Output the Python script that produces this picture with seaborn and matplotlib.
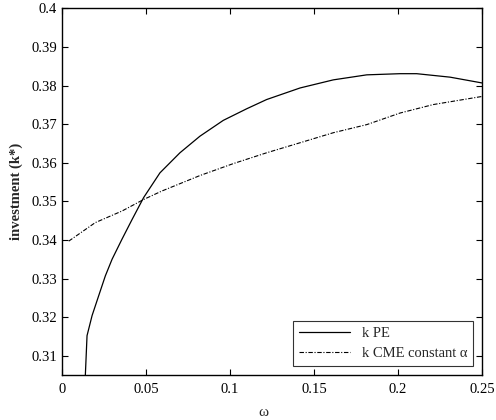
import matplotlib
matplotlib.use("Agg")
import matplotlib.pyplot as plt
import seaborn as sns
import pandas as pd

# k PE curve
pe_omega = [0.0139, 0.0149, 0.0179, 0.0218, 0.0258, 0.0298, 0.0357, 0.0417, 0.0486,
            0.0583, 0.0702, 0.0821, 0.0960, 0.1099, 0.1218, 0.1417, 0.1615, 0.1814,
            0.2012, 0.2111, 0.2310, 0.2500]
pe_k = [0.3050, 0.3152, 0.3204, 0.3255, 0.3307, 0.3350, 0.3402, 0.3453, 0.3510,
        0.3574, 0.3626, 0.3669, 0.3710, 0.3740, 0.3764, 0.3794, 0.3815, 0.3828,
        0.3831, 0.3831, 0.3822, 0.3807]

# k CME constant alpha curve
cme_omega = [0.0040, 0.0198, 0.0357, 0.0486, 0.0595, 0.0821, 0.1020, 0.1218, 0.1417,
             0.1615, 0.1814, 0.2012, 0.2210, 0.2500]
cme_k = [0.3397, 0.3445, 0.3475, 0.3505, 0.3527, 0.3567, 0.3598, 0.3626, 0.3652,
         0.3678, 0.3699, 0.3729, 0.3751, 0.3772]

x_ticks = [0, 0.05, 0.1, 0.15, 0.2, 0.25]
x_tick_labels = ["0", "0.05", "0.1", "0.15", "0.2", "0.25"]
y_ticks = [0.31, 0.32, 0.33, 0.34, 0.35, 0.36, 0.37, 0.38, 0.39, 0.4]
y_tick_labels = ["0.31", "0.32", "0.33", "0.34", "0.35", "0.36", "0.37", "0.38", "0.39", "0.4"]

sns.set_style("ticks")
plt.rcParams['font.family'] = ['Liberation Serif', 'DejaVu Serif']
plt.rcParams['mathtext.fontset'] = 'stix'

df_pe = pd.DataFrame({"omega": pe_omega, "k": pe_k})
df_cme = pd.DataFrame({"omega": cme_omega, "k": cme_k})

fig = plt.figure(figsize=(4.96, 4.2), dpi=100)
ax = fig.add_axes([0.125, 0.1071, 0.8468, 0.8727])

sns.lineplot(data=df_pe, x="omega", y="k", ax=ax, color="black", linewidth=0.9,
             label="k PE", sort=False, estimator=None)
sns.lineplot(data=df_cme, x="omega", y="k", ax=ax, color="black", linewidth=0.8,
             linestyle=(0, (4, 1.5, 1, 1.5)), label="k CME constant α", sort=False, estimator=None)

ax.set_xlim(0, 0.25)
ax.set_ylim(0.305, 0.4)
ax.set_xticks(x_ticks)
ax.set_xticklabels(x_tick_labels)
ax.set_yticks(y_ticks)
ax.set_yticklabels(y_tick_labels)
ax.tick_params(direction="in", top=True, right=True, labelsize=10.5, length=4, width=0.8, colors="black")
ax.tick_params(axis="x", pad=6)
for s in ax.spines.values():
    s.set_visible(True)
    s.set_linewidth(1.0)
    s.set_color("black")

ax.set_xlabel("ω", fontsize=11, labelpad=3)
ax.xaxis.set_label_coords(0.225 / 0.25 * 0 + 0.48, -0.085)
ax.set_ylabel("investment (k*)", fontsize=10.5, fontweight="bold", labelpad=6)

leg = ax.legend(loc="lower right", fontsize=10.5, frameon=True, fancybox=False,
                edgecolor="black", borderaxespad=0.6, handlelength=3.5, borderpad=0.4,
                labelspacing=0.5)
leg.get_frame().set_linewidth(0.8)

fig.savefig("out.png", dpi=100)
